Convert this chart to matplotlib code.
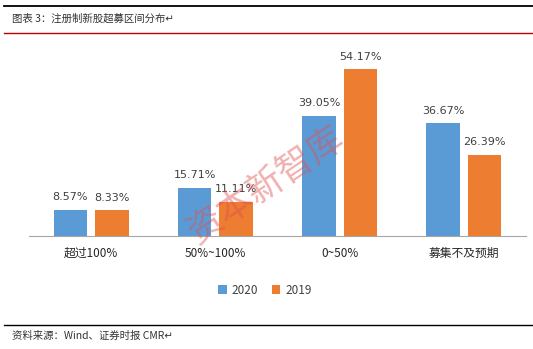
import numpy as np
import matplotlib.pyplot as plt
from matplotlib.lines import Line2D

plt.rcParams['font.family'] = ['Noto Sans CJK SC', 'DejaVu Sans']

# data
categories = ['超过100%', '50%~100%', '0~50%', '募集不及预期']
v2020 = [8.57, 15.71, 39.05, 36.67]
v2019 = [8.33, 11.11, 54.17, 26.39]
series = ['2020', '2019']

blue = '#5B9BD5'
orange = '#ED7D31'

W, H = 533, 349
fig = plt.figure(figsize=(W / 100, H / 100), dpi=100)

# axes box in pixel coords
x0, x1 = 29, 526
ytop, ybot = 51, 236
ax = fig.add_axes([x0 / W, 1 - ybot / H, (x1 - x0) / W, (ybot - ytop) / H])

x = np.arange(len(categories))
bw = 0.27
off = 0.167
b1 = ax.bar(x - off, v2020, bw, color=blue, label=series[0])
b2 = ax.bar(x + off, v2019, bw, color=orange, label=series[1])

for bars, vals in ((b1, v2020), (b2, v2019)):
    for r, v in zip(bars, vals):
        ax.text(r.get_x() + r.get_width() / 2, v + 2.4, f'{v:.2f}%',
                ha='center', va='bottom', fontsize=8, color='#404040',
                family='DejaVu Sans')

ax.set_xlim(-0.5, len(categories) - 0.5)
ax.set_ylim(0, 60)
for s in ['top', 'right', 'left']:
    ax.spines[s].set_visible(False)
ax.spines['bottom'].set_color('#A6A6A6')
ax.set_yticks([])
ax.set_xticks(x)
ax.set_xticklabels(categories, fontsize=8.5, color='#262626')
ax.tick_params(axis='x', length=0, pad=8)

leg = fig.legend(handles=[b1, b2], labels=series, loc='center',
                 bbox_to_anchor=(265 / W, 1 - 290 / H), ncol=2, frameon=False,
                 fontsize=8.5, handlelength=0.7, handleheight=0.7,
                 handletextpad=0.4, columnspacing=1.2)
for t in leg.get_texts():
    t.set_color('#404040')

# watermark
fig.text(266 / W, 1 - 186 / H, '资本新智库', fontsize=26, color='#E05050',
         alpha=0.45, rotation=34, ha='center', va='center', fontweight='light')

# header / footer rules and text
fig.add_artist(Line2D([4 / W, 1], [1 - 6 / H] * 2, color='black', lw=1.3))
fig.add_artist(Line2D([4 / W, 1], [1 - 33 / H] * 2, color='#C00000', lw=1.0))
fig.add_artist(Line2D([4 / W, 1], [1 - 325 / H] * 2, color='black', lw=1.0))
fig.text(12 / W, 1 - 19 / H, '图表 3：注册制新股超募区间分布↵', fontsize=7.5,
         color='#333333', va='center')
fig.text(12 / W, 1 - 336 / H, '资料来源：Wind、证券时报 CMR↵', fontsize=7.5,
         color='#333333', va='center')

fig.savefig('out.png', dpi=100)
